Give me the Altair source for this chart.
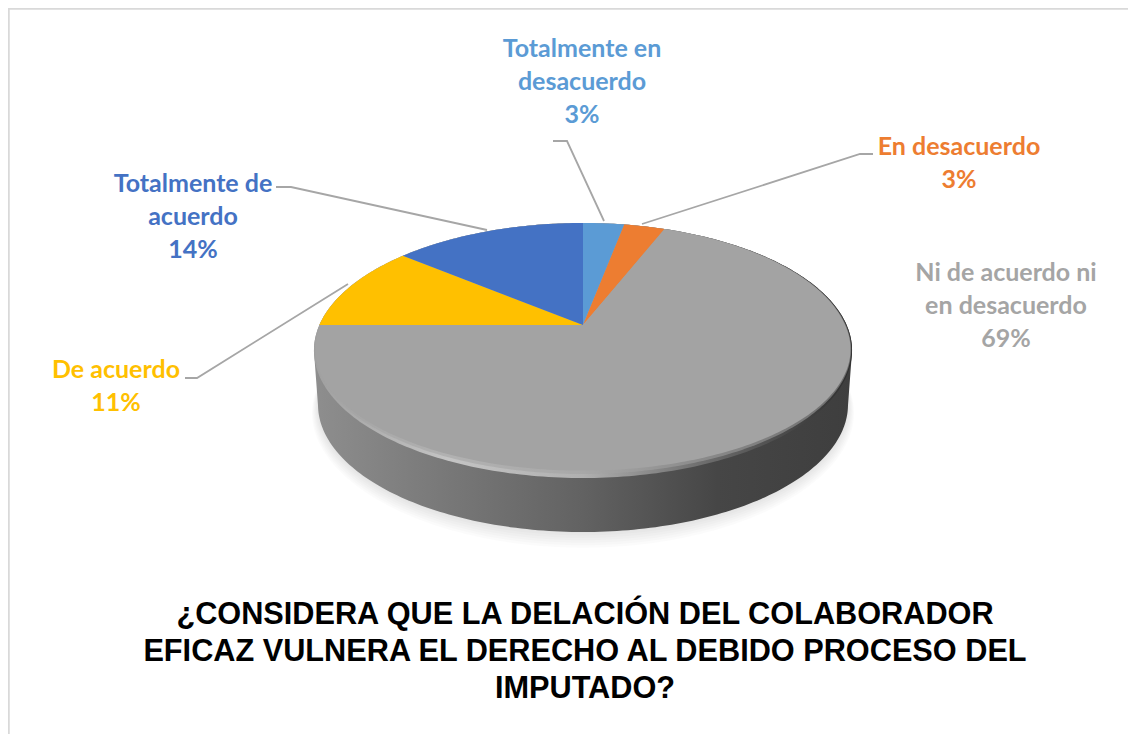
import altair as alt
import numpy as np
import pandas as pd

categories = ["Totalmente en desacuerdo", "En desacuerdo", "Ni de acuerdo ni en desacuerdo", "De acuerdo", "Totalmente de acuerdo"]
values = [3, 3, 69, 11, 14]
colors = ["#5B9BD5", "#ED7D31", "#A3A3A3", "#FFC000", "#4472C4"]
label_lines = [
    ["Totalmente en", "desacuerdo", "3%"],
    ["En desacuerdo", "3%"],
    ["Ni de acuerdo ni", "en desacuerdo", "69%"],
    ["De acuerdo", "11%"],
    ["Totalmente de", "acuerdo", "14%"],
]
title_lines = [
    "¿CONSIDERA QUE LA DELACIÓN DEL COLABORADOR",
    "EFICAZ VULNERA EL DERECHO AL DEBIDO PROCESO DEL",
    "IMPUTADO?",
]

# layout (page pixels)
CX, CY, A, B, K = 583.0, 325.0, 263.6, 122.4, 0.2
DEPTH = 54
label_pos = [(582, 49), (959, 147), (1006, 273), (116, 370), (193, 184)]
label_step = 33
leaders = [
    [(553, 141), (567, 141), (604, 221)],
    [(873, 154), (860, 154), (642, 224)],
    None,
    [(185, 378), (197, 378), (348, 284)],
    [(276, 187), (291, 187), (487, 230)],
]
title_y = [615, 652, 689]

xs = alt.Scale(domain=[8, 1128], nice=False, zero=False)
ys = alt.Scale(domain=[734, 8], nice=False, zero=False)
X = alt.X("x:Q", scale=xs, axis=None)
Y = alt.Y("y:Q", scale=ys, axis=None)


def project(theta, dy=0.0, sx=1.0, grow=0.0, cut=0.0):
    u, v = np.sin(theta), np.cos(theta)
    d = 1 + K * v
    x = CX + sx * (A + grow) * u / d
    y = CY - (B + grow * np.maximum(-v, 0)) * v / d + dy - cut * np.maximum(-v, 0)
    return x, y


def poly(x, y, **mark):
    x, y = np.append(x, x[0]), np.append(y, y[0])
    df = pd.DataFrame({"x": x, "y": y, "o": np.arange(len(x))})
    mark.setdefault("strokeWidth", 0)
    return alt.Chart(df).mark_line(**mark).encode(X, Y, order="o:Q")


def hgrad(stops):
    return alt.Gradient(
        gradient="linear", x1=0, x2=1, y1=0, y2=0,
        stops=[alt.GradientStop(offset=o, color=c) for o, c in stops],
    )


layers = []

# soft shadow
T = np.linspace(0, 2 * np.pi, 361)[:-1]
for g in range(12, -1, -2):
    x, y = project(T, dy=DEPTH + 1 + g * 0.6, sx=0.985, grow=g * 0.5)
    layers.append(poly(x, y, fill="#000000", fillOpacity=0.016))

# side wall
x0, y0 = project(T)
right, left = int(np.argmax(x0)), int(np.argmin(x0))
lower = T[right:left + 1]
upper = np.concatenate([T[left:], T[:right + 1]])
lx, ly = project(lower, dy=DEPTH, sx=0.985)
ux, uy = project(upper)
layers.append(poly(np.concatenate([lx, ux]), np.concatenate([ly, uy]), fill=hgrad([
    (0, "#8E8E8E"), (0.2, "#7C7C7C"), (0.5, "#626262"), (0.75, "#464646"), (1, "#3E3E3E"),
])))

# bevel rim
rx, ry = project(T)
layers.append(poly(rx, ry, fill=hgrad([
    (0, "#A0A0A0"), (0.25, "#C4C4C4"), (0.5, "#B0B0B0"), (0.72, "#6E6E6E"), (1, "#2E2E2E"),
])))
rx, ry = project(T, cut=3, grow=-0.8)
layers.append(poly(rx, ry, fill="#A3A3A3", fillOpacity=0.55))

# slices
edges = np.cumsum([0] + values) / sum(values) * 2 * np.pi
for i, c in enumerate(colors):
    t = np.linspace(edges[i], edges[i + 1], max(int(values[i] * 4), 8))
    sx, sy = project(t, cut=5.5, grow=-1.5 if c == "#A3A3A3" else 0)
    sx = np.concatenate([[CX], sx])
    sy = np.concatenate([[CY], sy])
    layers.append(poly(sx, sy, fill=c))

# leader lines
for pts in leaders:
    if pts:
        df = pd.DataFrame({"x": [p[0] for p in pts], "y": [p[1] for p in pts], "o": range(len(pts))})
        layers.append(alt.Chart(df).mark_line(stroke="#A6A6A6", strokeWidth=1.8).encode(X, Y, order="o:Q"))

# data labels
for lines, (lx0, ly0), c in zip(label_lines, label_pos, colors):
    col = "#A5A5A5" if c == "#A3A3A3" else c
    df = pd.DataFrame({"x": lx0, "y": [ly0 + k * label_step for k in range(len(lines))], "t": lines})
    layers.append(alt.Chart(df).mark_text(
        font="Lato", fontWeight="bold", fontSize=25, color=col, align="center", baseline="middle"
    ).encode(X, Y, text="t:N"))

# title
df = pd.DataFrame({"x": 585, "y": title_y, "t": title_lines})
layers.append(alt.Chart(df).mark_text(
    font="Liberation Sans", fontWeight="bold", fontSize=30.7, color="#000000", align="center", baseline="middle"
).encode(X, Y, text="t:N"))

# chart border
layers.append(alt.Chart(pd.DataFrame({"x": [8.5, 8.5, 1128], "y": [734, 8.5, 8.5], "o": [0, 1, 2]})).mark_line(
    stroke="#D9D9D9", strokeWidth=2.5).encode(X, Y, order="o:Q"))

chart = alt.layer(*layers).properties(
    width=1120, height=726, padding=0, autosize=alt.AutoSizeParams(type="none"), background="#FFFFFF"
).configure_view(stroke=None)

chart.save("out.html", embed_options={"renderer": "svg", "actions": False})
